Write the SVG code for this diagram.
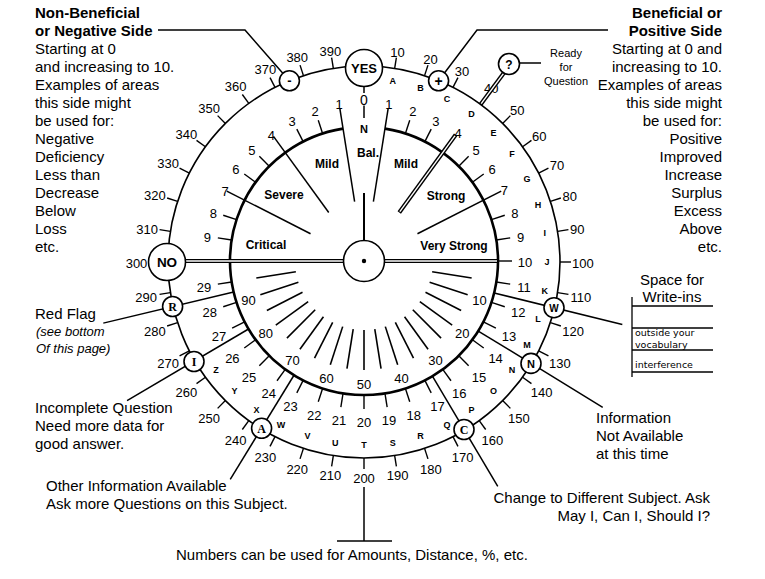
<svg xmlns="http://www.w3.org/2000/svg" width="765" height="579" viewBox="0 0 765 579">
<style>
text{font-family:"Liberation Sans",Arial,Helvetica,sans-serif;fill:#000}
.n{font-size:13px;text-anchor:middle;dominant-baseline:central}
.l{font-size:9px;font-weight:bold;text-anchor:middle;dominant-baseline:central}
.ring{fill:none;stroke:#000;stroke-width:1.6}
.arc{fill:none;stroke:#000;stroke-width:2.6}
.sp{stroke:#000;stroke-width:1.5;fill:none}
.d1{stroke:#000;stroke-width:4.2}
.d2{stroke:#fff;stroke-width:1.4}
.c{fill:#fff;stroke:#000;stroke-width:1.6}
.ct{font-size:11px;font-weight:bold;text-anchor:middle;dominant-baseline:central}
.sr{font-family:"Liberation Serif","Times New Roman",serif}
.t{font-size:15px}
.b{font-weight:bold}
.lb{font-size:12px;font-weight:bold;text-anchor:middle}
.hw{font-family:"DejaVu Sans",Verdana,sans-serif}
.e{text-anchor:end}
.m{text-anchor:middle}
</style>
<defs>
<line id="ot" y1="-196" y2="-207" stroke="#000" stroke-width="1.4"/>
<line id="it" y1="-134" y2="-148" stroke="#000" stroke-width="1.4"/>
<line id="il" y1="-69" y2="-109" stroke="#000" stroke-width="1.6"/>
<line id="dv" y1="-60" y2="-154" stroke="#000" stroke-width="1.5"/>
</defs>

<!-- outer ring -->
<g id="outer-ring" transform="translate(364,262)">
<circle r="196" class="ring"/>
<use href="#ot" transform="rotate(9)"/><use href="#ot" transform="rotate(18)"/><use href="#ot" transform="rotate(27)"/>
<use href="#ot" transform="rotate(45)"/><use href="#ot" transform="rotate(54)"/><use href="#ot" transform="rotate(63)"/>
<use href="#ot" transform="rotate(72)"/><use href="#ot" transform="rotate(81)"/><use href="#ot" transform="rotate(90)"/>
<use href="#ot" transform="rotate(99)"/><use href="#ot" transform="rotate(108)"/><use href="#ot" transform="rotate(117)"/>
<use href="#ot" transform="rotate(126)"/><use href="#ot" transform="rotate(135)"/><use href="#ot" transform="rotate(144)"/>
<use href="#ot" transform="rotate(153)"/><use href="#ot" transform="rotate(162)"/><use href="#ot" transform="rotate(171)"/>
<use href="#ot" transform="rotate(180)"/><use href="#ot" transform="rotate(189)"/><use href="#ot" transform="rotate(198)"/>
<use href="#ot" transform="rotate(207)"/><use href="#ot" transform="rotate(216)"/><use href="#ot" transform="rotate(225)"/>
<use href="#ot" transform="rotate(234)"/><use href="#ot" transform="rotate(243)"/><use href="#ot" transform="rotate(252)"/>
<use href="#ot" transform="rotate(261)"/><use href="#ot" transform="rotate(279)"/><use href="#ot" transform="rotate(288)"/>
<use href="#ot" transform="rotate(297)"/><use href="#ot" transform="rotate(306)"/><use href="#ot" transform="rotate(315)"/>
<use href="#ot" transform="rotate(324)"/><use href="#ot" transform="rotate(333)"/><use href="#ot" transform="rotate(342)"/>
<use href="#ot" transform="rotate(351)"/>
</g>

<g id="outer-labels" transform="translate(364,263.5)">
<text class="n" transform="rotate(9)translate(0,-214)rotate(-9)">10</text>
<text class="n" transform="rotate(18)translate(0,-215)rotate(-18)">20</text>
<text class="n" transform="rotate(27)translate(0,-215.8)rotate(-27)">30</text>
<text class="n" transform="rotate(36)translate(0,-216.5)rotate(-36)">40</text>
<text class="n" transform="rotate(45)translate(0,-216.6)rotate(-45)">50</text>
<text class="n" transform="rotate(54)translate(0,-216.7)rotate(-54)">60</text>
<text class="n" transform="rotate(63)translate(0,-216.7)rotate(-63)">70</text>
<text class="n" transform="rotate(72)translate(0,-216.3)rotate(-72)">80</text>
<text class="n" transform="rotate(81)translate(0,-215.9)rotate(-81)">90</text>
<text class="n" transform="rotate(90)translate(0,-218.8)rotate(-90)">100</text>
<text class="n" transform="rotate(99)translate(0,-219.5)rotate(-99)">110</text>
<text class="n" transform="rotate(108)translate(0,-219.8)rotate(-108)">120</text>
<text class="n" transform="rotate(117)translate(0,-219.9)rotate(-117)">130</text>
<text class="n" transform="rotate(126)translate(0,-219.6)rotate(-126)">140</text>
<text class="n" transform="rotate(135)translate(0,-219.1)rotate(-135)">150</text>
<text class="n" transform="rotate(144)translate(0,-218.4)rotate(-144)">160</text>
<text class="n" transform="rotate(153)translate(0,-217.4)rotate(-153)">170</text>
<text class="n" transform="rotate(162)translate(0,-216.1)rotate(-162)">180</text>
<text class="n" transform="rotate(171)translate(0,-214.6)rotate(-171)">190</text>
<text class="n" transform="rotate(180)translate(0,-214.5)rotate(-180)">200</text>
<text class="n" transform="rotate(189)translate(0,-214.6)rotate(-189)">210</text>
<text class="n" transform="rotate(198)translate(0,-216.1)rotate(-198)">220</text>
<text class="n" transform="rotate(207)translate(0,-217.4)rotate(-207)">230</text>
<text class="n" transform="rotate(216)translate(0,-218.4)rotate(-216)">240</text>
<text class="n" transform="rotate(225)translate(0,-219.1)rotate(-225)">250</text>
<text class="n" transform="rotate(234)translate(0,-219.6)rotate(-234)">260</text>
<text class="n" transform="rotate(243)translate(0,-219.9)rotate(-243)">270</text>
<text class="n" transform="rotate(252)translate(0,-219.8)rotate(-252)">280</text>
<text class="n" transform="rotate(261)translate(0,-220.5)rotate(-261)">290</text>
<text class="n" transform="rotate(270)translate(0,-227.5)rotate(-270)">300</text>
<text class="n" transform="rotate(279)translate(0,-219.5)rotate(-279)">310</text>
<text class="n" transform="rotate(288)translate(0,-219.8)rotate(-288)">320</text>
<text class="n" transform="rotate(297)translate(0,-219.9)rotate(-297)">330</text>
<text class="n" transform="rotate(306)translate(0,-219.6)rotate(-306)">340</text>
<text class="n" transform="rotate(315)translate(0,-219.1)rotate(-315)">350</text>
<text class="n" transform="rotate(324)translate(0,-218.4)rotate(-324)">360</text>
<text class="n" transform="rotate(333)translate(0,-217.4)rotate(-333)">370</text>
<text class="n" transform="rotate(342)translate(0,-216.1)rotate(-342)">380</text>
<text class="n" transform="rotate(351)translate(0,-214.6)rotate(-351)">390</text>
</g>

<g id="ring-letters" transform="translate(364,262)">
<text class="l" transform="rotate(9)translate(0,-183)rotate(-9)">A</text>
<text class="l" transform="rotate(18)translate(0,-183)rotate(-18)">B</text>
<text class="l" transform="rotate(27)translate(0,-183)rotate(-27)">C</text>
<text class="l" transform="rotate(36)translate(0,-183)rotate(-36)">D</text>
<text class="l" transform="rotate(45)translate(0,-183)rotate(-45)">E</text>
<text class="l" transform="rotate(54)translate(0,-183)rotate(-54)">F</text>
<text class="l" transform="rotate(63)translate(0,-183)rotate(-63)">G</text>
<text class="l" transform="rotate(72)translate(0,-183)rotate(-72)">H</text>
<text class="l" transform="rotate(81)translate(0,-183)rotate(-81)">I</text>
<text class="l" transform="rotate(90)translate(0,-183)rotate(-90)">J</text>
<text class="l" transform="rotate(99)translate(0,-183)rotate(-99)">K</text>
<text class="l" transform="rotate(108)translate(0,-183)rotate(-108)">L</text>
<text class="l" transform="rotate(117)translate(0,-183)rotate(-117)">M</text>
<text class="l" transform="rotate(126)translate(0,-183)rotate(-126)">N</text>
<text class="l" transform="rotate(135)translate(0,-183)rotate(-135)">O</text>
<text class="l" transform="rotate(144)translate(0,-183)rotate(-144)">P</text>
<text class="l" transform="rotate(153)translate(0,-183)rotate(-153)">Q</text>
<text class="l" transform="rotate(162)translate(0,-183)rotate(-162)">R</text>
<text class="l" transform="rotate(171)translate(0,-183)rotate(-171)">S</text>
<text class="l" transform="rotate(180)translate(0,-183)rotate(-180)">T</text>
<text class="l" transform="rotate(189)translate(0,-183)rotate(-189)">U</text>
<text class="l" transform="rotate(198)translate(0,-183)rotate(-198)">V</text>
<text class="l" transform="rotate(207)translate(0,-183)rotate(-207)">W</text>
<text class="l" transform="rotate(216)translate(0,-183)rotate(-216)">X</text>
<text class="l" transform="rotate(225)translate(0,-183)rotate(-225)">Y</text>
<text class="l" transform="rotate(234)translate(0,-183)rotate(-234)">Z</text>
</g>

<!-- inner dial -->
<g id="inner-dial" transform="translate(364,261)">
<path d="M20.96,-132.35 A134,134 0 1 1 -20.96,-132.35" class="arc"/>
<use href="#it" transform="rotate(18)"/><use href="#it" transform="rotate(27)"/><use href="#it" transform="rotate(45)"/>
<use href="#it" transform="rotate(54)"/><use href="#it" transform="rotate(72)"/><use href="#it" transform="rotate(81)"/>
<use href="#it" transform="rotate(279)"/><use href="#it" transform="rotate(288)"/><use href="#it" transform="rotate(306)"/>
<use href="#it" transform="rotate(315)"/><use href="#it" transform="rotate(333)"/><use href="#it" transform="rotate(342)"/>
<use href="#it" transform="rotate(90)"/>
<use href="#it" transform="rotate(99)"/><use href="#it" transform="rotate(108)"/><use href="#it" transform="rotate(117)"/>
<use href="#it" transform="rotate(126)"/><use href="#it" transform="rotate(135)"/><use href="#it" transform="rotate(144)"/>
<use href="#it" transform="rotate(153)"/><use href="#it" transform="rotate(162)"/><use href="#it" transform="rotate(171)"/>
<use href="#it" transform="rotate(180)"/><use href="#it" transform="rotate(189)"/><use href="#it" transform="rotate(198)"/>
<use href="#it" transform="rotate(207)"/><use href="#it" transform="rotate(216)"/><use href="#it" transform="rotate(225)"/>
<use href="#it" transform="rotate(234)"/><use href="#it" transform="rotate(243)"/><use href="#it" transform="rotate(252)"/>
<use href="#it" transform="rotate(261)"/>
<use href="#il" transform="rotate(99)"/><use href="#il" transform="rotate(108)"/><use href="#il" transform="rotate(117)"/>
<use href="#il" transform="rotate(126)"/><use href="#il" transform="rotate(135)"/><use href="#il" transform="rotate(144)"/>
<use href="#il" transform="rotate(153)"/><use href="#il" transform="rotate(162)"/><use href="#il" transform="rotate(171)"/>
<use href="#il" transform="rotate(180)"/><use href="#il" transform="rotate(189)"/><use href="#il" transform="rotate(198)"/>
<use href="#il" transform="rotate(207)"/><use href="#il" transform="rotate(216)"/><use href="#il" transform="rotate(225)"/>
<use href="#il" transform="rotate(234)"/><use href="#il" transform="rotate(243)"/><use href="#il" transform="rotate(252)"/>
<use href="#il" transform="rotate(261)"/>
<use href="#dv" transform="rotate(9)"/><use href="#dv" transform="rotate(63)"/>
<use href="#dv" transform="rotate(351)"/><use href="#dv" transform="rotate(324)"/><use href="#dv" transform="rotate(297)"/>
<g transform="rotate(36)"><line y1="-60" y2="-156" class="d1"/><line y1="-61" y2="-155" class="d2"/></g>
<line y1="-20" y2="-68" stroke="#000" stroke-width="2"/>
<line x1="20" x2="134" class="d1"/><line x1="20" x2="133" class="d2"/>
<line x1="-20" x2="-182" class="d1"/><line x1="-20" x2="-182" class="d2"/>
</g>

<g id="inner-labels" transform="translate(364,262.5)">
<text class="n" transform="rotate(9)translate(0,-159.5)rotate(-9)">1</text>
<text class="n" transform="rotate(18)translate(0,-158.5)rotate(-18)">2</text>
<text class="n" transform="rotate(27)translate(0,-158.5)rotate(-27)">3</text>
<text class="n" transform="rotate(36)translate(0,-160)rotate(-36)">4</text>
<text class="n" transform="rotate(45)translate(0,-158.5)rotate(-45)">5</text>
<text class="n" transform="rotate(54)translate(0,-158.5)rotate(-54)">6</text>
<text class="n" transform="rotate(63)translate(0,-157.5)rotate(-63)">7</text>
<text class="n" transform="rotate(72)translate(0,-158.5)rotate(-72)">8</text>
<text class="n" transform="rotate(81)translate(0,-158.5)rotate(-81)">9</text>
<text class="n" transform="rotate(90)translate(0,-161)rotate(-90)">10</text>
<text class="n" transform="rotate(351)translate(0,-159.5)rotate(-351)">1</text>
<text class="n" transform="rotate(342)translate(0,-158.5)rotate(-342)">2</text>
<text class="n" transform="rotate(333)translate(0,-158.5)rotate(-333)">3</text>
<text class="n" transform="rotate(324)translate(0,-157.5)rotate(-324)">4</text>
<text class="n" transform="rotate(315)translate(0,-158.5)rotate(-315)">5</text>
<text class="n" transform="rotate(306)translate(0,-158.5)rotate(-306)">6</text>
<text class="n" transform="rotate(297)translate(0,-156)rotate(-297)">7</text>
<text class="n" transform="rotate(288)translate(0,-158.5)rotate(-288)">8</text>
<text class="n" transform="rotate(279)translate(0,-158.5)rotate(-279)">9</text>
<text class="n" transform="rotate(99)translate(0,-161.9)rotate(-99)">11</text>
<text class="n" transform="rotate(108)translate(0,-162.3)rotate(-108)">12</text>
<text class="n" transform="rotate(117)translate(0,-162.7)rotate(-117)">13</text>
<text class="n" transform="rotate(126)translate(0,-162.7)rotate(-126)">14</text>
<text class="n" transform="rotate(135)translate(0,-162.6)rotate(-135)">15</text>
<text class="n" transform="rotate(144)translate(0,-162.2)rotate(-144)">16</text>
<text class="n" transform="rotate(153)translate(0,-161.8)rotate(-153)">17</text>
<text class="n" transform="rotate(162)translate(0,-161)rotate(-162)">18</text>
<text class="n" transform="rotate(171)translate(0,-160)rotate(-171)">19</text>
<text class="n" transform="rotate(180)translate(0,-159.5)rotate(-180)">20</text>
<text class="n" transform="rotate(189)translate(0,-160)rotate(-189)">21</text>
<text class="n" transform="rotate(198)translate(0,-161)rotate(-198)">22</text>
<text class="n" transform="rotate(207)translate(0,-161.8)rotate(-207)">23</text>
<text class="n" transform="rotate(216)translate(0,-162.2)rotate(-216)">24</text>
<text class="n" transform="rotate(225)translate(0,-162.6)rotate(-225)">25</text>
<text class="n" transform="rotate(234)translate(0,-162.7)rotate(-234)">26</text>
<text class="n" transform="rotate(243)translate(0,-162.7)rotate(-243)">27</text>
<text class="n" transform="rotate(252)translate(0,-162.3)rotate(-252)">28</text>
<text class="n" transform="rotate(261)translate(0,-161.9)rotate(-261)">29</text>
<text class="n" transform="rotate(108)translate(0,-121.5)rotate(-108)">10</text>
<text class="n" transform="rotate(126)translate(0,-121.5)rotate(-126)">20</text>
<text class="n" transform="rotate(144)translate(0,-121.5)rotate(-144)">30</text>
<text class="n" transform="rotate(162)translate(0,-121.5)rotate(-162)">40</text>
<text class="n" transform="rotate(180)translate(0,-121.5)rotate(-180)">50</text>
<text class="n" transform="rotate(198)translate(0,-121.5)rotate(-198)">60</text>
<text class="n" transform="rotate(216)translate(0,-121.5)rotate(-216)">70</text>
<text class="n" transform="rotate(234)translate(0,-121.5)rotate(-234)">80</text>
<text class="n" transform="rotate(252)translate(0,-121.5)rotate(-252)">90</text>
</g>

<g id="zone-labels">
<text x="368" y="157" class="lb">Bal.</text>
<text x="327" y="168" class="lb">Mild</text>
<text x="406" y="168" class="lb">Mild</text>
<text x="284" y="199" class="lb">Severe</text>
<text x="446" y="200" class="lb">Strong</text>
<text x="266" y="249" class="lb">Critical</text>
<text x="454" y="250" class="lb">Very Strong</text>
</g>

<!-- connectors -->
<g id="connectors" fill="none" stroke="#000" stroke-width="1.5">
<line y1="-134" y2="-266" transform="translate(364,261)rotate(103.8)"/>
<line y1="-134" y2="-280" transform="translate(364,261)rotate(121.5)"/>
<line y1="-134" y2="-262" transform="translate(364,261)rotate(149.3)"/>
<line y1="-134" y2="-256" transform="translate(364,261)rotate(211.5)"/>
<line y1="-134" y2="-275" transform="translate(364,261)rotate(239.5)"/>
<line y1="-134" y2="-268" transform="translate(364,261)rotate(256.6)"/>
<polyline points="158,30 245,30 289.4,80.8"/>
<polyline points="608,30 477,30 438.6,80.8"/>
<line x1="509" y1="63" x2="541" y2="63"/>
<g transform="translate(364,262)rotate(36.5)"><line y1="-196" y2="-236" class="d1"/><line y1="-197" y2="-235" class="d2"/></g>
<line x1="364" y1="86" x2="364" y2="93"/>
<line x1="364" y1="105.5" x2="364" y2="118"/>
<line x1="364" y1="487" x2="364" y2="541"/>
<line x1="337" y1="541" x2="392" y2="541"/>
</g>

<!-- nodes -->
<g id="node-center"><circle cx="364" cy="261" r="20.5" class="c" stroke-width="2"/><circle cx="364" cy="261" r="2.2" fill="#000"/></g>
<g id="node-yes"><circle cx="364" cy="68" r="18.5" class="c" stroke-width="2"/><text x="364" y="68.5" class="ct" style="font-size:13px">YES</text></g>
<g id="node-zero"><text x="364" y="104.5" class="m" style="font-size:14px">0</text><text x="364" y="133" class="m b" style="font-size:11px">N</text></g>
<g id="node-no"><circle cx="167" cy="262" r="18.5" class="c" stroke-width="2"/><text x="167" y="262.5" class="ct" style="font-size:13.5px">NO</text></g>
<g id="node-minus"><circle cx="289.4" cy="80.8" r="10" class="c"/><text x="289.4" y="80.3" class="ct" style="font-size:13px">-</text></g>
<g id="node-plus"><circle cx="438.6" cy="80.8" r="10" class="c"/><text x="438.6" y="81" class="ct" style="font-size:14px">+</text></g>
<g id="node-ready"><circle cx="509" cy="64" r="10.5" class="c"/><text x="509" y="64.5" class="ct" style="font-size:12px">?</text></g>
<g id="node-W"><circle cx="554" cy="307.7" r="10" class="c"/><text x="554" y="308" class="ct" style="font-size:10px">W</text></g>
<g id="node-N"><circle cx="531" cy="363.4" r="10" class="c"/><text x="531" y="363.8" class="ct" style="font-size:11px">N</text></g>
<g id="node-C"><circle cx="464" cy="429.5" r="10" class="c"/><text x="464" y="430" class="ct sr" style="font-size:12px">C</text></g>
<g id="node-A"><circle cx="261.6" cy="428.3" r="10" class="c"/><text x="261.6" y="428.8" class="ct sr" style="font-size:12px">A</text></g>
<g id="node-I"><circle cx="194" cy="361.5" r="10" class="c"/><text x="194" y="362" class="ct sr" style="font-size:12px">I</text></g>
<g id="node-R"><circle cx="172.6" cy="306.5" r="10" class="c"/><text x="172.6" y="307" class="ct sr" style="font-size:12px">R</text></g>

<!-- side texts -->
<g id="neg-side-label" class="t">
<text x="35" y="18" class="b">Non-Beneficial</text>
<text x="35" y="36" class="b">or Negative Side</text>
<text x="35" y="54">Starting at 0</text>
<text x="35" y="72">and increasing to 10.</text>
<text x="35" y="90">Examples of areas</text>
<text x="35" y="108">this side might</text>
<text x="35" y="126">be used for:</text>
<text x="35" y="144">Negative</text>
<text x="35" y="162">Deficiency</text>
<text x="35" y="180">Less than</text>
<text x="35" y="198">Decrease</text>
<text x="35" y="216">Below</text>
<text x="35" y="234">Loss</text>
<text x="35" y="252">etc.</text>
</g>
<g id="pos-side-label" class="t e">
<text x="722" y="18" class="b">Beneficial or</text>
<text x="722" y="36" class="b">Positive Side</text>
<text x="722" y="54">Starting at 0 and</text>
<text x="722" y="72">increasing to 10.</text>
<text x="722" y="90">Examples of areas</text>
<text x="722" y="108">this side might</text>
<text x="722" y="126">be used for:</text>
<text x="722" y="144">Positive</text>
<text x="722" y="162">Improved</text>
<text x="722" y="180">Increase</text>
<text x="722" y="198">Surplus</text>
<text x="722" y="216">Excess</text>
<text x="722" y="234">Above</text>
<text x="722" y="252">etc.</text>
</g>
<g id="ready-label" class="hw m" style="font-size:11px">
<text x="566" y="57">Ready</text>
<text x="566" y="71">for</text>
<text x="566" y="85">Question</text>
</g>
<g id="red-flag-label">
<text x="35" y="319" class="t">Red Flag</text>
<text x="36" y="336" style="font-size:13px;font-style:italic">(see bottom</text>
<text x="36" y="353" style="font-size:13px;font-style:italic">Of this page)</text>
</g>
<g id="incomplete-label" class="t">
<text x="35" y="413">Incomplete Question</text>
<text x="35" y="431">Need more data for</text>
<text x="35" y="449">good answer.</text>
</g>
<g id="other-info-label" class="t">
<text x="46" y="491">Other Information Available</text>
<text x="46" y="509">Ask more Questions on this Subject.</text>
</g>
<g id="change-label" class="t e">
<text x="710" y="503">Change to Different Subject. Ask</text>
<text x="710" y="521">May I, Can I, Should I?</text>
</g>
<g id="not-available-label" class="t">
<text x="596" y="423">Information</text>
<text x="596" y="441">Not Available</text>
<text x="596" y="459">at this time</text>
</g>
<g id="write-ins">
<text x="672" y="285" class="t m">Space for</text>
<text x="672" y="302" class="t m">Write-ins</text>
<g stroke="#000" stroke-width="1.3">
<line x1="632" y1="297" x2="632" y2="377"/>
<line x1="632" y1="306" x2="713" y2="306"/>
<line x1="632" y1="328" x2="713" y2="328"/>
<line x1="632" y1="350" x2="713" y2="350"/>
<line x1="632" y1="372" x2="713" y2="372"/>
</g>
<text x="635" y="336" class="hw" style="font-size:9.5px">outside your</text>
<text x="635" y="348" class="hw" style="font-size:9.5px">vocabulary</text>
<text x="635" y="368" class="hw" style="font-size:9.5px">interference</text>
</g>
<text id="numbers-note" x="176" y="560" class="t">Numbers can be used for Amounts, Distance, %, etc.</text>
</svg>
